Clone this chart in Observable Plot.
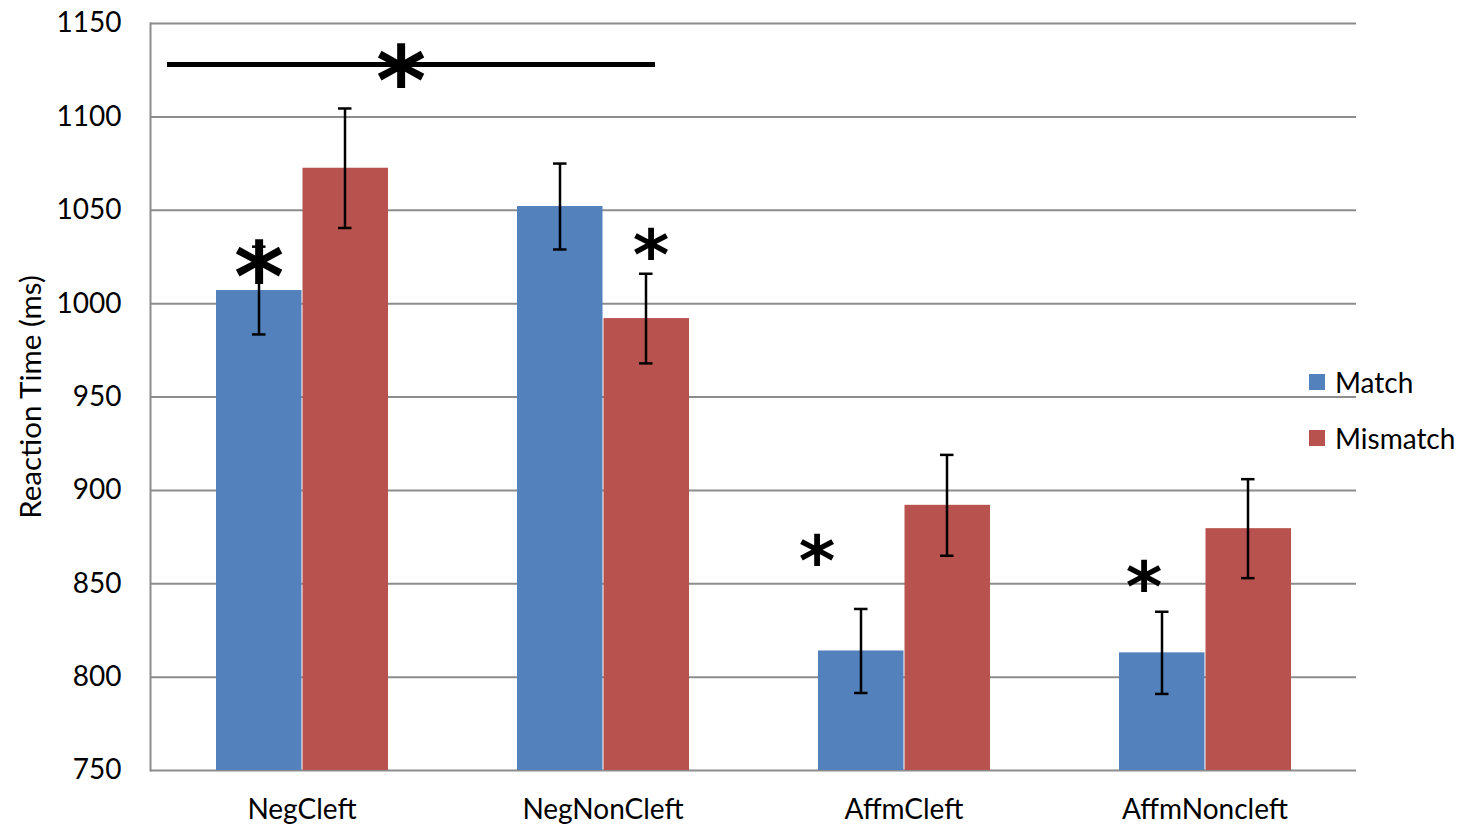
<!DOCTYPE html>
<html><head><meta charset="utf-8">
<script src="https://cdn.jsdelivr.net/npm/d3@7"></script>
<script src="https://cdn.jsdelivr.net/npm/@observablehq/plot@0.6"></script>
<style>
html,body{margin:0;padding:0;background:#fff;}
#chart{position:relative;width:1460px;height:827px;}
#legend{position:absolute;left:1309px;top:362px;font-family:Lato,sans-serif;font-size:28px;color:#000;line-height:1;}
#legend .item{display:flex;align-items:center;height:40px;margin-bottom:16px;}
#legend .sw{width:16px;height:16px;margin-right:10px;}
</style>
</head><body>
<div id="chart"><div id="legend"></div></div>
<script>
// ---- data ----
const categories = ["NegCleft", "NegNonCleft", "AffmCleft", "AffmNoncleft"];
const seriesNames = ["Match", "Mismatch"];
const seriesColors = ["#5281bb", "#b8524e"];
const matchMeans = [1007, 1052, 814, 813];
const matchErrors = [23.5, 23, 22.5, 22];
const mismatchMeans = [1072.5, 992, 892, 879.5];
const mismatchErrors = [32, 24, 27, 26.5];
const yTicks = [750, 800, 850, 900, 950, 1000, 1050, 1100, 1150];
const yLabel = "Reaction Time (ms)";
// significance markers: category, which bar, y value of the marker
const starCategories = ["NegCleft", "NegNonCleft", "AffmCleft", "AffmNoncleft"];
const starSeries = ["Match", "Mismatch", "Match", "Match"];
const starValues = [1023, 1032.7, 868.7, 854.8];
// main-effect bracket across the negative conditions
const bracketFrom = "NegCleft";
const bracketTo = "NegNonCleft";
const bracketValue = 1128;

// ---- tables ----
const rows = categories.flatMap((c, i) => [
  {category: c, series: "Match", mean: matchMeans[i], lo: matchMeans[i] - matchErrors[i], hi: matchMeans[i] + matchErrors[i]},
  {category: c, series: "Mismatch", mean: mismatchMeans[i], lo: mismatchMeans[i] - mismatchErrors[i], hi: mismatchMeans[i] + mismatchErrors[i]}
]);
const matchRows = rows.filter(d => d.series === "Match");
const mismatchRows = rows.filter(d => d.series === "Mismatch");
const stars = starCategories.map((c, i) => ({category: c, series: starSeries[i], value: starValues[i]}));
const bracket = [{from: bracketFrom, to: bracketTo, value: bracketValue}];
const yBase = yTicks[0];

const grid = "#8c8c8c";
const errStyle = {stroke: "#000", strokeWidth: 2.5};
const starStyle = {text: () => "*", fontFamily: "DejaVu Sans", fontWeight: "bold", fill: "#000", lineAnchor: "middle"};

const chart = Plot.plot({
  width: 1460,
  height: 827,
  marginLeft: 150,
  marginRight: 104,
  marginTop: 23,
  marginBottom: 57,
  style: {fontFamily: "Lato, sans-serif", fontSize: "28px", background: "#fff", color: "#000"},
  x: {domain: categories, padding: 0, axis: null},
  y: {domain: [yTicks[0], yTicks[yTicks.length - 1]], axis: null},
  color: {domain: seriesNames, range: seriesColors},
  marks: [
    Plot.gridY(yTicks, {stroke: grid, strokeOpacity: 1, strokeWidth: 2}),
    Plot.frame({anchor: "left", stroke: grid, strokeWidth: 2}),
    Plot.barY(matchRows, {x: "category", y1: yBase, y2: "mean", fill: "series", insetLeft: 65, insetRight: 150.5}),
    Plot.barY(mismatchRows, {x: "category", y1: yBase, y2: "mean", fill: "series", insetLeft: 151.5, insetRight: 64}),
    // error bars
    Plot.ruleX(matchRows, {x: "category", y1: "lo", y2: "hi", dx: -43, ...errStyle}),
    Plot.ruleX(mismatchRows, {x: "category", y1: "lo", y2: "hi", dx: 43, ...errStyle}),
    Plot.tickY(matchRows, {x: "category", y: "lo", insetLeft: 101, insetRight: 186.5, ...errStyle}),
    Plot.tickY(matchRows, {x: "category", y: "hi", insetLeft: 101, insetRight: 186.5, ...errStyle}),
    Plot.tickY(mismatchRows, {x: "category", y: "lo", insetLeft: 187, insetRight: 100.5, ...errStyle}),
    Plot.tickY(mismatchRows, {x: "category", y: "hi", insetLeft: 187, insetRight: 100.5, ...errStyle}),
    // bracket
    Plot.ruleY(bracket, {x1: "from", x2: "to", y: "value", insetLeft: 16, insetRight: 98, stroke: "#000", strokeWidth: 5}),
    Plot.text(bracket, {x: "from", y: "value", dx: 99, dy: 20, fontSize: 96, ...starStyle}),
    // stars
    Plot.text(stars.filter((d, i) => i === 0), {x: "category", y: "value", dx: -43, dy: 20, fontSize: 96, ...starStyle}),
    Plot.text(stars.filter((d, i) => i === 1), {x: "category", y: "value", dx: 48, dy: 14, fontSize: 70, ...starStyle}),
    Plot.text(stars.filter((d, i) => i === 2), {x: "category", y: "value", dx: -87, dy: 14, fontSize: 70, ...starStyle}),
    Plot.text(stars.filter((d, i) => i === 3), {x: "category", y: "value", dx: -61, dy: 14, fontSize: 70, ...starStyle}),
    // axes
    Plot.axisY(yTicks, {tickSize: 0, tickPadding: 29, fontSize: 28, tickFormat: d => String(d), label: null}),
    Plot.text([yLabel], {frameAnchor: "left", textAnchor: "middle", dx: -119, rotate: -90, fontSize: 29.5, fill: "#000"}),
    Plot.axisX({tickSize: 0, tickPadding: 29, fontSize: 28, label: null})
  ]
});
document.getElementById("chart").prepend(chart);

// legend
const legend = d3.select("#legend");
seriesNames.forEach((s, i) => {
  const item = legend.append("div").attr("class", "item");
  item.append("div").attr("class", "sw").style("background", seriesColors[i]);
  item.append("span").text(s);
});
</script>
</body></html>
